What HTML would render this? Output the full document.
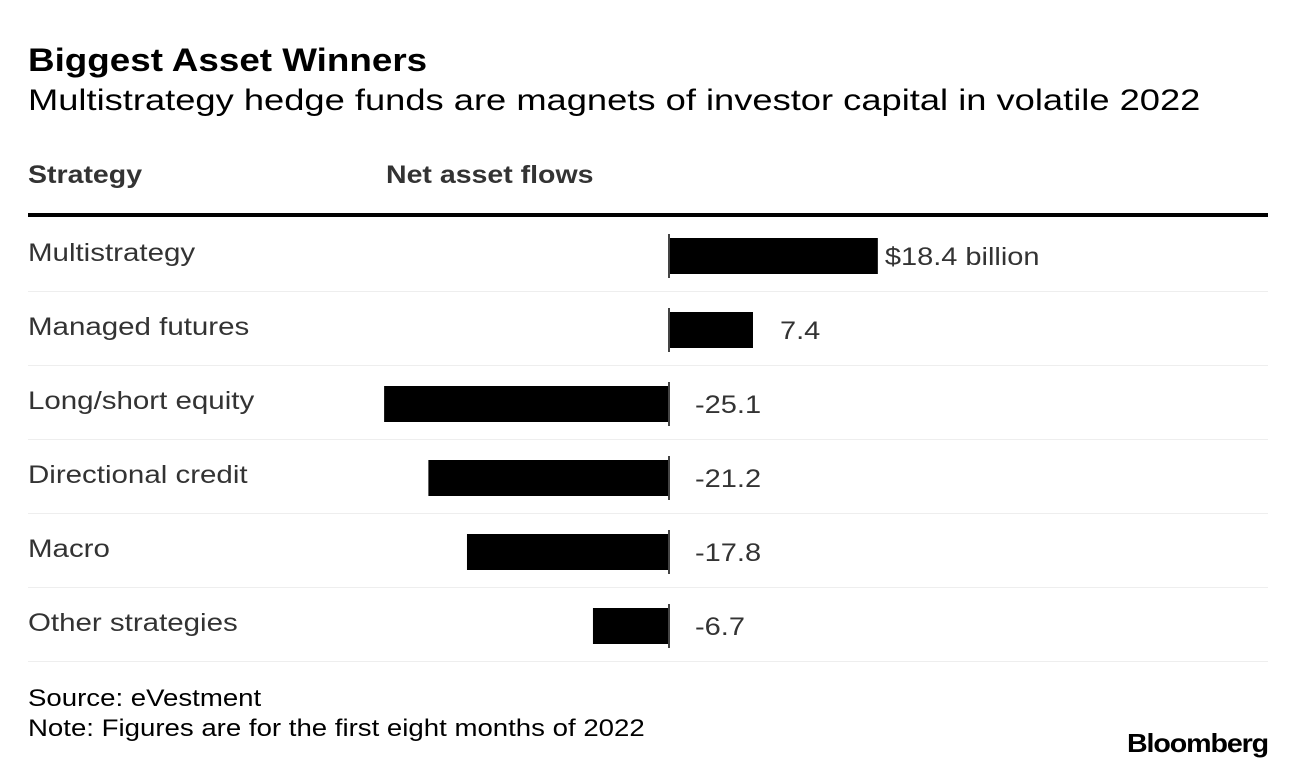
<!DOCTYPE html>
<html><head><meta charset="utf-8"><style>
body{margin:0;background:#fff;font-family:"Liberation Sans",sans-serif;}
#wrap{position:relative;width:1296px;height:770px;overflow:hidden;}
.t{position:absolute;white-space:nowrap;transform-origin:0 0;}
</style></head><body>
<div id="wrap">
<div class="t" style="left:28px;top:42px;font-size:32px;font-weight:bold;color:#000;transform:scaleX(1.15)">Biggest Asset Winners</div>
<div class="t" style="left:28px;top:84px;font-size:30px;color:#000;transform:scaleX(1.21)">Multistrategy hedge funds are magnets of investor capital in volatile 2022</div>
<div class="t" style="left:28px;top:161px;font-size:25px;font-weight:bold;color:#333;transform:scaleX(1.14)">Strategy</div>
<div class="t" style="left:386px;top:161px;font-size:25px;font-weight:bold;color:#333;transform:scaleX(1.14)">Net asset flows</div>
<svg id="svg" width="1296" height="770" style="position:absolute;left:0;top:0"></svg>
<div class="t" style="left:28px;top:685px;font-size:24px;color:#000;transform:scaleX(1.15)">Source: eVestment</div>
<div class="t" style="left:28px;top:715px;font-size:24px;color:#000;transform:scaleX(1.15)">Note: Figures are for the first eight months of 2022</div>
<div class="t" style="left:1127px;top:728px;font-size:26px;font-weight:bold;color:#000;letter-spacing:-1px;transform:scaleX(1.1)">Bloomberg</div>
</div>
<script>
const categories=["Multistrategy","Managed futures","Long/short equity","Directional credit","Macro","Other strategies"];
const values=[18.4,7.4,-25.1,-21.2,-17.8,-6.7];
const valueLabels=["$18.4 billion","7.4","-25.1","-21.2","-17.8","-6.7"];
const NS="http://www.w3.org/2000/svg";
const svg=document.getElementById('svg');
const zeroX=669, scale=11.35, top0=217, rowH=74;
const x=v=>zeroX+v*scale;
function el(tag,attrs){const e=document.createElementNS(NS,tag);for(const k in attrs)e.setAttribute(k,attrs[k]);svg.appendChild(e);return e;}
function sx(e,x0,s){e.setAttribute('transform','translate('+x0+',0) scale('+s+',1) translate('+(-x0)+',0)');}
const hl=el('rect',{x:28,y:213,width:1240,height:4,fill:'#000'});


categories.forEach((c,i)=>{
  const y0=top0+i*rowH;
  const t=el('text',{x:28,y:y0+44,'font-size':25,fill:'#333','font-family':'Liberation Sans'});
  t.textContent=c;
  sx(t,28,1.18);
  
  
  const v=values[i];
  const x1=Math.min(x(0),x(v)),x2=Math.max(x(0),x(v));
  const b=el('rect',{x:x1,y:y0+21,width:x2-x1,height:36,fill:'#000'});
  
  
  const z=el('rect',{x:zeroX-1,y:y0+17,width:2,height:44,fill:'#444'});
  
  
  const lx=v>=0?Math.max(x(v)+7,780):695;
  const vl=el('text',{x:lx,y:y0+48,'font-size':25,fill:'#333','font-family':'Liberation Sans'});
  vl.textContent=valueLabels[i];
  sx(vl,lx,1.16);
  
  
  const sep=el('rect',{x:28,y:y0+rowH,width:1240,height:1,fill:'#eee'});
  
  
});
</script>
</body></html>
